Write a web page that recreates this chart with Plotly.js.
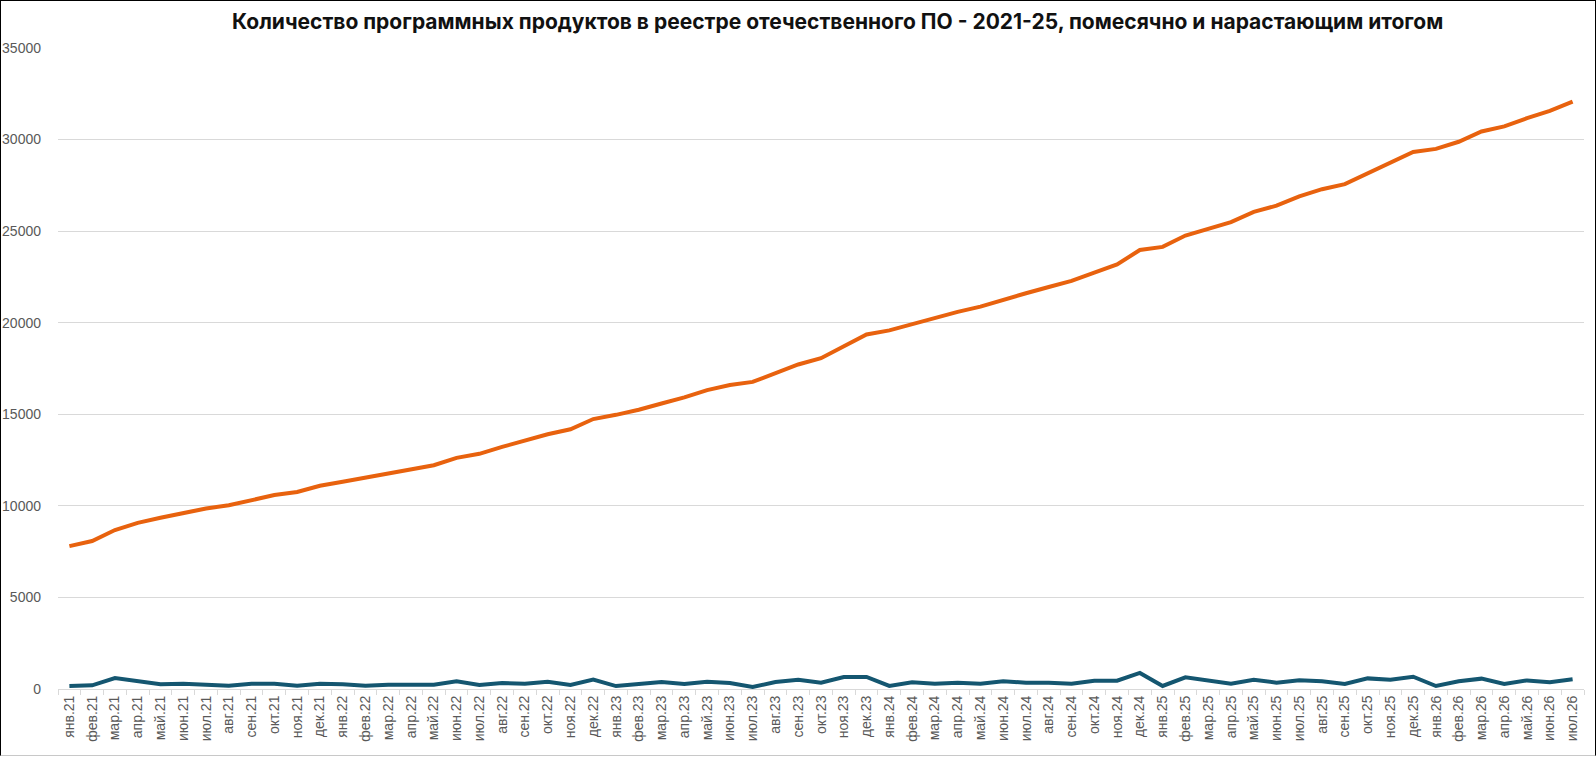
<!DOCTYPE html>
<html>
<head>
<meta charset="utf-8">
<script src="https://cdn.plot.ly/plotly-3.0.1.min.js"></script>
<style>
   body { margin: 0; background: #ffffff; }
   #wrap { position: relative; width: 1596px; height: 759px; }
   #plot { position: absolute; left: 0; top: 0; width: 1596px; height: 759px; }
   #frame { position: absolute; left: 0; top: 0; width: 1594px; height: 754px;
            border: 1px solid #000000; border-bottom-color: #c8c8c8; pointer-events: none; }
</style>
</head>
<body>
<div id="wrap">
   <div id="plot"></div>
   <div id="frame"></div>
</div>
<script>
// months, Jan 2021 .. Jul 2026
var month_labels = [
   'янв.21','фев.21','мар.21','апр.21','май.21','июн.21','июл.21','авг.21','сен.21','окт.21','ноя.21','дек.21',
   'янв.22','фев.22','мар.22','апр.22','май.22','июн.22','июл.22','авг.22','сен.22','окт.22','ноя.22','дек.22',
   'янв.23','фев.23','мар.23','апр.23','май.23','июн.23','июл.23','авг.23','сен.23','окт.23','ноя.23','дек.23',
   'янв.24','фев.24','мар.24','апр.24','май.24','июн.24','июл.24','авг.24','сен.24','окт.24','ноя.24','дек.24',
   'янв.25','фев.25','мар.25','апр.25','май.25','июн.25','июл.25','авг.25','сен.25','окт.25','ноя.25','дек.25',
   'янв.26','фев.26','мар.26','апр.26','май.26','июн.26','июл.26'
];

// cumulative total in the registry
var cumulative = [
   7800, 8080, 8680, 9070, 9350, 9630, 9860, 10030, 10310, 10590, 10760, 11100,
   11320, 11540, 11770, 12000, 12220, 12620, 12840, 13220, 13560, 13910, 14180, 14740,
   14970, 15250, 15590, 15920, 16320, 16600, 16770, 17220, 17720, 18060, 18680, 19360,
   19580, 19920, 20260, 20590, 20880, 21270, 21610, 21950, 22280, 22730, 23180, 23970,
   24140, 24760, 25150, 25490, 26050, 26390, 26900, 27290, 27570, 28140, 28700, 29320,
   29490, 29880, 30440, 30720, 31170, 31570, 32070
];

// added per month
var monthly = [
   160, 200, 600, 420, 255, 290, 255, 180, 290, 290, 180, 290,
   255, 180, 235, 235, 235, 420, 220, 330, 290, 400, 220, 510,
   160, 270, 380, 270, 400, 330, 110, 380, 500, 345, 655, 655,
   165, 365, 290, 345, 290, 420, 345, 345, 290, 455, 455, 875,
   165, 635, 475, 290, 510, 345, 475, 420, 275, 580, 510, 670,
   165, 420, 565, 275, 470, 365, 530
];

var y_ticks = [0, 5000, 10000, 15000, 20000, 25000, 30000, 35000];

var tick_font = {
   family: 'Liberation Sans Narrow, Arial Narrow, Liberation Sans, Arial, sans-serif',
   size: 14,
   color: '#595959'
};

var cumulative_trace = {
   name: 'Нарастающим итогом',
   x: month_labels,
   y: cumulative,
   type: 'scatter',
   mode: 'lines',
   hoverinfo: 'x+y',
   line: {width: 4, color: '#e8620e'}
};
var monthly_trace = {
   name: 'Помесячно',
   x: month_labels,
   y: monthly,
   type: 'scatter',
   mode: 'lines',
   hoverinfo: 'x+y',
   line: {width: 4, color: '#145670'}
};

var xaxis_layout = {
   type: 'category',
   range: [-0.5, month_labels.length - 0.5],
   tickangle: -90,
   tickfont: tick_font,
   ticks: 'outside',
   tickson: 'boundaries',
   ticklen: 5,
   tickcolor: '#d9d9d9',
   showline: true,
   linecolor: '#d9d9d9',
   linewidth: 1,
   showgrid: false,
   zeroline: false,
   automargin: false
};
var yaxis_layout = {
   range: [0, 35000],
   tickvals: y_ticks,
   ticktext: y_ticks.map(String),
   tickfont: tick_font,
   ticks: '',
   ticklabelstandoff: 16,
   showgrid: true,
   gridcolor: '#d9d9d9',
   gridwidth: 1,
   zeroline: false,
   showline: false,
   automargin: false
};

Plotly.newPlot('plot',
   [monthly_trace, cumulative_trace],
   {
      width: 1596,
      height: 759,
      title: {
         text: 'Количество программных продуктов в реестре отечественного ПО - 2021-25, помесячно и нарастающим итогом',
         font: {family: 'Inter, Roboto, sans-serif', size: 21, color: '#111111', weight: 700},
         xref: 'container',
         x: 232 / 1596,
         xanchor: 'left',
         yref: 'container',
         y: 1 - 22 / 759,
         yanchor: 'middle'
      },
      xaxis: xaxis_layout,
      yaxis: yaxis_layout,
      showlegend: false,
      margin: {l: 58, r: 12, t: 48, b: 70},
      paper_bgcolor: '#ffffff',
      plot_bgcolor: '#ffffff'
   },
   {staticPlot: true, displayModeBar: false});
</script>
</body>
</html>
